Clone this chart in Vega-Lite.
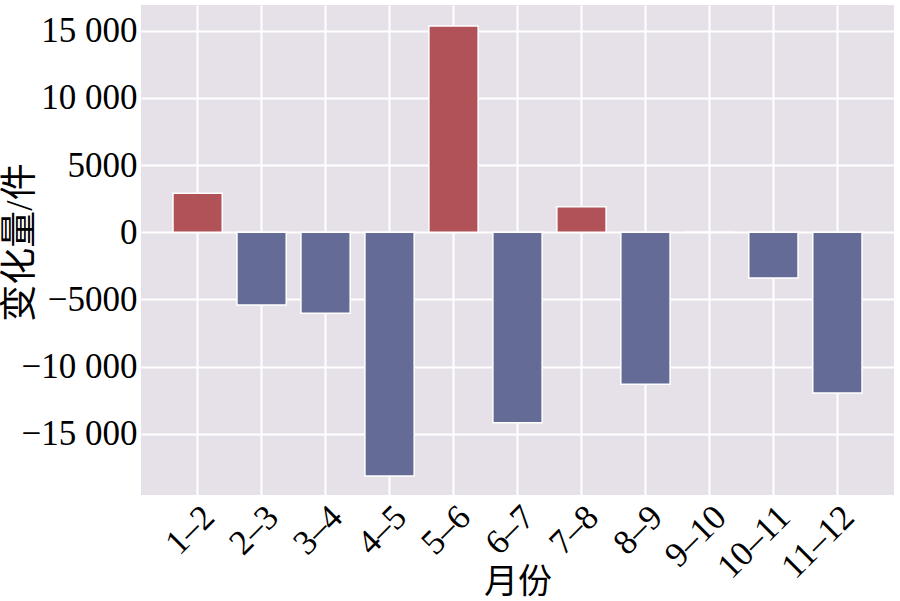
{
  "$schema": "https://vega.github.io/schema/vega-lite/v6.json",
  "width": 753,
  "height": 490,
  "autosize": {"type": "none"},
  "padding": {"left": 141, "top": 5, "right": 6, "bottom": 106},
  "background": "white",
  "config": {
    "view": {"fill": "#E6E0E8", "stroke": null},
    "axis": {
      "labelFont": "Liberation Serif",
      "titleFont": "Liberation Serif, Noto Sans CJK SC",
      "labelFontSize": 35,
      "titleFontSize": 34,
      "titleFontWeight": "normal",
      "labelColor": "#000000",
      "titleColor": "#000000",
      "domain": false,
      "ticks": false,
      "grid": true,
      "gridColor": "#FFFFFF",
      "gridWidth": 2,
      "gridOpacity": 1
    }
  },
  "data": {
    "values": [
      {"period": "1–2", "change": 2900},
      {"period": "2–3", "change": -5410},
      {"period": "3–4", "change": -6030},
      {"period": "4–5", "change": -18130},
      {"period": "5–6", "change": 15350},
      {"period": "6–7", "change": -14170},
      {"period": "7–8", "change": 1905},
      {"period": "8–9", "change": -11310},
      {"period": "9–10", "change": 0},
      {"period": "10–11", "change": -3400},
      {"period": "11–12", "change": -11960}
    ]
  },
  "mark": {"type": "bar", "stroke": "white", "strokeWidth": 1.5},
  "encoding": {
    "x": {
      "field": "period",
      "type": "nominal",
      "sort": null,
      "title": "月份",
      "scale": {"paddingInner": 0.23, "paddingOuter": 0.5},
      "axis": {
        "grid": true,
        "bandPosition": 0.5,
        "labelAngle": -45,
        "labelAlign": "right",
        "labelBaseline": "top",
        "labelOffset": -1,
        "labelPadding": 4,
        "titleX": 376.5,
        "titleY": 87,
        "titleAlign": "center",
        "titleBaseline": "middle"
      }
    },
    "y": {
      "field": "change",
      "type": "quantitative",
      "title": "变化量/件",
      "scale": {"domain": [-19546, 16912], "nice": false, "zero": false},
      "axis": {
        "grid": true,
        "values": [-15000, -10000, -5000, 0, 5000, 10000, 15000],
        "labelExpr": "(datum.value < 0 ? '−' : '') + (abs(datum.value) >= 10000 ? replace(format(abs(datum.value), ','), ',', ' ') : format(abs(datum.value), 'd'))",
        "labelPadding": 4,
        "titleFontSize": 37,
        "titleAngle": -90,
        "titleX": -121,
        "titleY": 237,
        "titleAlign": "center",
        "titleBaseline": "middle"
      }
    },
    "color": {
      "condition": {"test": "datum.change > 0", "value": "#B05257"},
      "value": "#636B96"
    }
  }
}
